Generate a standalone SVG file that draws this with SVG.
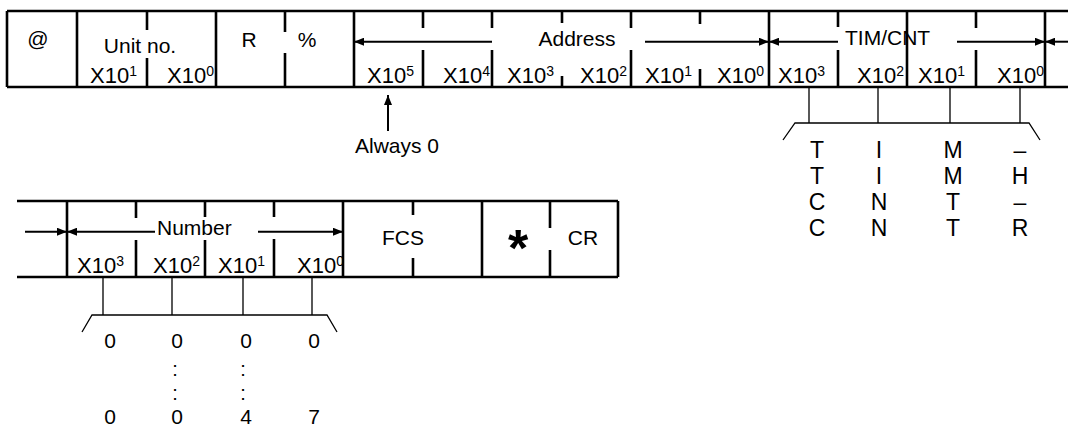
<svg xmlns="http://www.w3.org/2000/svg" width="1068" height="428" viewBox="0 0 1068 428">
<style>
.t{font-family:"Liberation Sans",Arial,Helvetica,sans-serif;font-size:21px;fill:#000}
.x{font-family:"Liberation Sans",Arial,Helvetica,sans-serif;font-size:22px;fill:#000}
.s{font-size:14px}
.L{font-family:"Liberation Sans",Arial,Helvetica,sans-serif;font-size:23px;fill:#000;text-anchor:middle}
.c{font-family:"Liberation Sans",Arial,Helvetica,sans-serif;font-size:20px;fill:#000;text-anchor:middle}
.m{text-anchor:middle}
.fr{stroke:#000;stroke-width:2.6;fill:none;stroke-linecap:butt}
.br{stroke:#000;stroke-width:1.3;fill:none}
.ar{stroke:#000;stroke-width:2;fill:none;marker-end:url(#ah)}
</style>
<defs>
<marker id="ah" viewBox="0 0 10 8" refX="10" refY="4" markerWidth="10" markerHeight="8" markerUnits="userSpaceOnUse" orient="auto">
<path d="M0,0 L10,4 L0,8 Z" fill="#000"/>
</marker>
</defs>
<rect width="1068" height="428" fill="#fff"/>

<g id="frame-top" class="fr">
<path d="M7,11H1068M7,87H1068"/>
<path d="M7,11V87M77,11V87M216,11V87M354,11V87M769,11V87M907,11V87M1045,11V87"/>
<path d="M147,11V30M147,58V87M285,11V32M285,53V87M423,11V28M423,50V87M492,11V28M492,50V87M562,11V23M562,76V87M631,11V28M631,50V87M700,11V24M700,69V87M838,11V27M838,50V87M976,11V28M976,50V87"/>
</g>

<g id="field-at"><text class="t m" x="38" y="46">@</text></g>
<g id="field-unit">
<text class="t m" x="140" y="53">Unit no.</text>
<text class="x" x="90" y="83">X10<tspan class="s" dy="-7">1</tspan></text>
<text class="x" x="167" y="83">X10<tspan class="s" dy="-7">0</tspan></text>
</g>
<g id="field-r"><text class="t m" x="249" y="47">R</text></g>
<g id="field-pct"><text class="t m" x="307" y="47">%</text></g>
<g id="field-address">
<text class="t m" x="577" y="46">Address</text>
<text class="x" x="367" y="83">X10<tspan class="s" dy="-7">5</tspan></text>
<text class="x" x="443" y="83">X10<tspan class="s" dy="-7">4</tspan></text>
<text class="x" x="507" y="83">X10<tspan class="s" dy="-7">3</tspan></text>
<text class="x" x="580" y="83">X10<tspan class="s" dy="-7">2</tspan></text>
<text class="x" x="645" y="83">X10<tspan class="s" dy="-7">1</tspan></text>
<text class="x" x="717" y="83">X10<tspan class="s" dy="-7">0</tspan></text>
</g>
<g id="field-timcnt">
<text class="t" x="845" y="45">TIM/CNT</text>
<text class="x" x="778" y="83">X10<tspan class="s" dy="-7">3</tspan></text>
<text class="x" x="857" y="83">X10<tspan class="s" dy="-7">2</tspan></text>
<text class="x" x="918" y="83">X10<tspan class="s" dy="-7">1</tspan></text>
<text class="x" x="997" y="83">X10<tspan class="s" dy="-7">0</tspan></text>
</g>
<g id="note-always0"><text class="t m" x="397" y="153">Always 0</text></g>

<g id="timcnt-codes">
<path class="br" d="M809,87V123M878,87V123M950,87V123M1020,87V123M783,140L795,123H1029L1040,140"/>
<text class="L" x="817" y="158">T</text><text class="L" x="879" y="158">I</text><text class="L" x="953" y="158">M</text><text class="L" x="1020" y="158">–</text>
<text class="L" x="817" y="184">T</text><text class="L" x="879" y="184">I</text><text class="L" x="953" y="184">M</text><text class="L" x="1020" y="184">H</text>
<text class="L" x="817" y="210">C</text><text class="L" x="879" y="210">N</text><text class="L" x="953" y="210">T</text><text class="L" x="1020" y="210">–</text>
<text class="L" x="817" y="236">C</text><text class="L" x="879" y="236">N</text><text class="L" x="953" y="236">T</text><text class="L" x="1020" y="236">R</text>
</g>

<g id="frame-bottom" class="fr">
<path d="M17,201H618M17,277H618"/>
<path d="M67,201V277M343,201V277M482,201V277M618,201V277"/>
<path d="M136,201V218M136,240V277M205,201V217M205,240V277M274,201V217M274,239V277M413,201V215M413,258V277M550,201V228M550,250V277"/>
</g>

<g id="field-number">
<text class="t" x="157" y="235">Number</text>
<text class="x" x="77" y="273">X10<tspan class="s" dy="-7">3</tspan></text>
<text class="x" x="153" y="273">X10<tspan class="s" dy="-7">2</tspan></text>
<text class="x" x="218" y="273">X10<tspan class="s" dy="-7">1</tspan></text>
<text class="x" x="297" y="273">X10<tspan class="s" dy="-7">0</tspan></text>
</g>
<g id="field-fcs"><text class="t m" x="403" y="245">FCS</text></g>
<g id="field-star"><text class="m" x="518" y="266" style="font-family:'Liberation Sans',Arial,sans-serif;font-size:52px;font-weight:bold">*</text></g>
<g id="field-cr"><text class="t m" x="583" y="245">CR</text></g>

<g id="number-range">
<path class="br" d="M103,277V315M172,277V315M243,277V315M312,277V315M82,332L92,315H327L337,332"/>
<text class="t m" x="110" y="348">0</text><text class="t m" x="177" y="348">0</text><text class="t m" x="246" y="348">0</text><text class="t m" x="314" y="348">0</text>
<text class="c" x="175" y="376">:</text>
<text class="c" x="175" y="400">:</text>
<text class="c" x="243" y="376">:</text>
<text class="c" x="243" y="400">:</text>
<text class="t m" x="110" y="424">0</text><text class="t m" x="177" y="424">0</text><text class="t m" x="246" y="424">4</text><text class="t m" x="314" y="424">7</text>
</g>

<g id="connectors">
<line class="ar" x1="492" y1="41.7" x2="354" y2="41.7"/>
<line class="ar" x1="645" y1="41.7" x2="769" y2="41.7"/>
<line class="ar" x1="838" y1="41.7" x2="769" y2="41.7"/>
<line class="ar" x1="957" y1="41.7" x2="1045" y2="41.7"/>
<line class="ar" x1="1068" y1="41.7" x2="1045" y2="41.7"/>
<line class="ar" x1="25" y1="231.7" x2="67" y2="231.7"/>
<line class="ar" x1="155" y1="231.7" x2="67" y2="231.7"/>
<line class="ar" x1="258" y1="231.7" x2="343" y2="231.7"/>
<line class="ar" x1="388" y1="131" x2="388" y2="95"/>
</g>
</svg>
